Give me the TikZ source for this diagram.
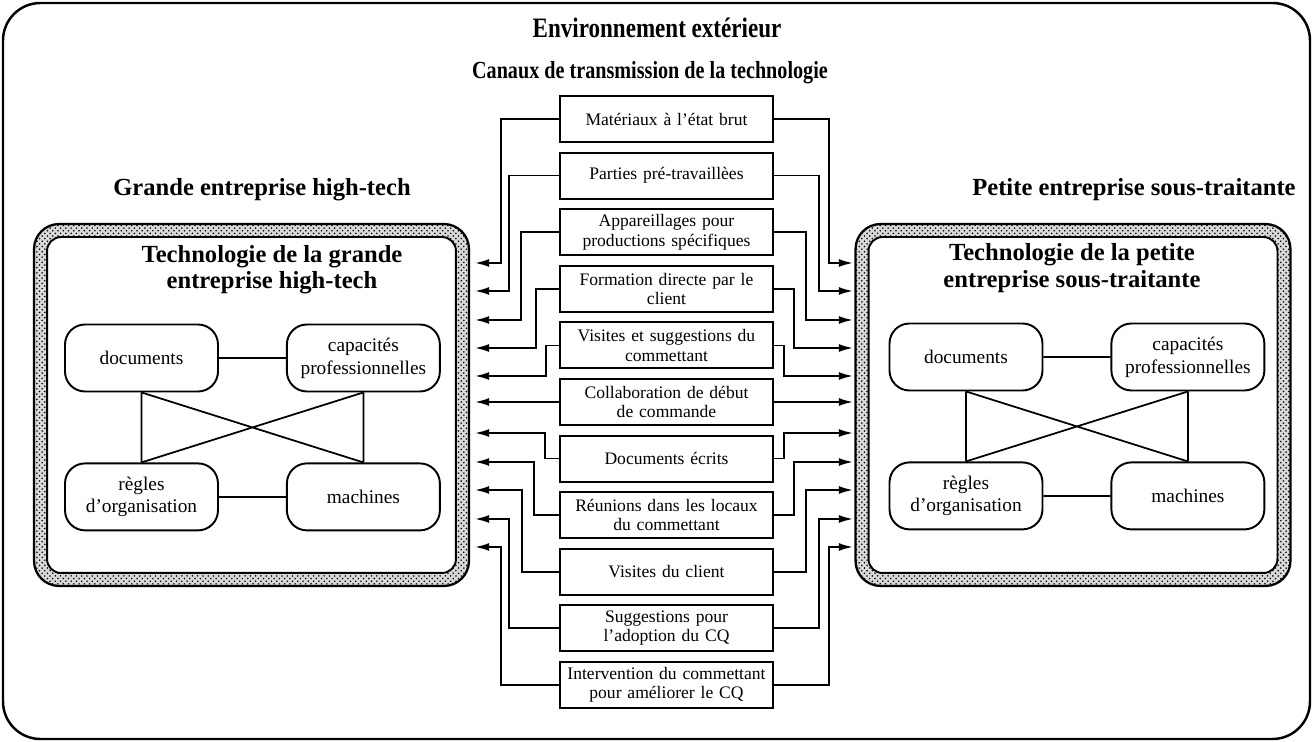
\documentclass[tikz,border=0pt]{standalone}
\usepackage{fontspec}
\setmainfont{Liberation Serif}
\newfontfamily\narrowfont[FakeStretch=0.82]{Liberation Serif}
\usetikzlibrary{positioning, arrows.meta, patterns}
\tikzset{
x=0.02cm, y=-0.02cm, % one unit is one pixel of the scan, y going down
channel/.style={draw, line width=1.2pt, minimum width=4.26cm, minimum height=0.92cm, text width=4.1cm, inner sep=1pt, align=center, font=\fontsize{10}{11}\selectfont}, % boxes of the transmission channels
wire/.style={line width=1pt, -{Latex[length=8pt,width=4.5pt]}}, % connectors from a channel to a firm
firm/.style={draw, line width=1.3pt, rounded corners=0.5cm, minimum width=8.7cm, minimum height=7.24cm, preaction={fill=gray!30}, pattern=crosshatch dots}, % hatched frame of a firm
firminner/.style={draw, line width=1.1pt, fill=white, rounded corners=0.28cm, minimum width=8.18cm, minimum height=6.72cm}, % white inside of the frame
part/.style={draw, line width=1.1pt, rounded corners=0.4cm, minimum width=3.06cm, minimum height=1.34cm, inner sep=1pt, align=center, font=\fontsize{11}{13}\selectfont}, % parts of a technology
heading/.style={align=center, font=\fontsize{14}{15}\selectfont\bfseries}, % titles of the firms
}

\begin{document}
\begin{tikzpicture}
    \useasboundingbox (0,0) rectangle (1313,742);
    \draw[line width=1.4pt, rounded corners=0.75cm] (3,3) rectangle (1310,739);

    \node[font=\narrowfont\fontsize{16}{19}\selectfont\bfseries] (env) at (657,28) {Environnement extérieur};
    \node[font=\narrowfont\fontsize{14}{16}\selectfont\bfseries] (canaux) at (650,73) {Canaux de transmission de la technologie};

    % the two firms
    \node[heading] (grandeT) at (262,190) {Grande entreprise high-tech};
    \node[heading] (petiteT) at (1134,190) {Petite entreprise sous-traitante};
    \node[firm] (grande) at (251.5,405) {};
    \node[firminner] (grandeIn) at (grande) {};
    \node[firm] (petite) at (1073,405) {};
    \node[firminner] (petiteIn) at (petite) {};
    \node[heading] (grandeTech) at (272,270) {Technologie de la grande\\entreprise high-tech};
    \node[heading] (petiteTech) at (1072,268) {Technologie de la petite\\entreprise sous-traitante};

    % technology of the big firm
    \node[part] (docG) at (141.5,358) {documents};
    \node[part, right=1.34cm of docG] (capG) {capacités\\professionnelles};
    \node[part, below=1.4cm of docG] (regG) {règles\\d'organisation};
    \node[part, below=1.4cm of capG] (macG) {machines};

    % technology of the small firm
    \node[part] (docP) at (966,357) {documents};
    \node[part, right=1.34cm of docP] (capP) {capacités\\professionnelles};
    \node[part, below=1.4cm of docP] (regP) {règles\\d'organisation};
    \node[part, below=1.4cm of capP] (macP) {machines};

    \draw[line width=1pt] (docG) -- (capG)  (regG) -- (macG)  (docG) -- (regG)  (capG) -- (macG)
        (docG.south) -- (macG.north)  (capG.south) -- (regG.north);
    \draw[line width=1pt] (docP) -- (capP)  (regP) -- (macP)  (docP) -- (regP)  (capP) -- (macP)
        (docP.south) -- (macP.north)  (capP.south) -- (regP.north);

    % channels of transmission
    \node[channel] (c1) at (666.5,119) {Matériaux à l'état brut};
    \node[channel, below=0.17cm of c1] (c2) {Parties pré-travaillèes};
    \node[channel, below=0.17cm of c2] (c3) {Appareillages pour\\productions spécifiques};
    \node[channel, below=0.17cm of c3] (c4) {Formation directe par le\\client};
    \node[channel, below=0.17cm of c4] (c5) {Visites et suggestions du\\commettant};
    \node[channel, below=0.17cm of c5] (c6) {Collaboration de début\\de commande};
    \node[channel, below=0.17cm of c6] (c7) {Documents écrits};
    \node[channel, below=0.17cm of c7] (c8) {Réunions dans les locaux\\du commettant};
    \node[channel, below=0.17cm of c8] (c9) {Visites du client};
    \node[channel, below=0.17cm of c9] (c10) {Suggestions pour\\l'adoption du CQ};
    \node[channel, below=0.17cm of c10] (c11) {Intervention du commettant\\pour améliorer le CQ};

    % arrow tips on the firms
    \coordinate (L1) at (475,263);
    \coordinate (L2) at (475,291);
    \coordinate (L3) at (475,320);
    \coordinate (L4) at (475,348);
    \coordinate (L5) at (475,376);
    \coordinate (L6) at (475,404);
    \coordinate (L7) at (475,433);
    \coordinate (L8) at (475,462);
    \coordinate (L9) at (475,490);
    \coordinate (L10) at (475,519);
    \coordinate (L11) at (475,547);
    \coordinate (R1) at (853,263);
    \coordinate (R2) at (853,291);
    \coordinate (R3) at (853,320);
    \coordinate (R4) at (853,348);
    \coordinate (R5) at (853,376);
    \coordinate (R6) at (853,404);
    \coordinate (R7) at (853,433);
    \coordinate (R8) at (853,462);
    \coordinate (R9) at (853,490);
    \coordinate (R10) at (853,519);
    \coordinate (R11) at (853,547);

    \draw[wire] (c1.west) -- ++(-58,0) |- (L1);
    \draw[wire] (c2.west) -- ++(-50,0) |- (L2);
    \draw[wire] (c3.west) -- ++(-38,0) |- (L3);
    \draw[wire] (c4.west) -- ++(-23,0) |- (L4);
    \draw[wire] (c5.west) -- ++(-13,0) |- (L5);
    \draw[wire] (c6.west) -- (c6.west -| L6);
    \draw[wire] (c7.west) -- ++(-14,0) |- (L7);
    \draw[wire] (c8.west) -- ++(-25,0) |- (L8);
    \draw[wire] (c9.west) -- ++(-37,0) |- (L9);
    \draw[wire] (c10.west) -- ++(-50,0) |- (L10);
    \draw[wire] (c11.west) -- ++(-58,0) |- (L11);

    \draw[wire] (c1.east) -- ++(55,0) |- (R1);
    \draw[wire] (c2.east) -- ++(45,0) |- (R2);
    \draw[wire] (c3.east) -- ++(32,0) |- (R3);
    \draw[wire] (c4.east) -- ++(20,0) |- (R4);
    \draw[wire] (c5.east) -- ++(10,0) |- (R5);
    \draw[wire] (c6.east) -- (c6.east -| R6);
    \draw[wire] (c7.east) -- ++(10,0) |- (R7);
    \draw[wire] (c8.east) -- ++(20,0) |- (R8);
    \draw[wire] (c9.east) -- ++(32,0) |- (R9);
    \draw[wire] (c10.east) -- ++(45,0) |- (R10);
    \draw[wire] (c11.east) -- ++(55,0) |- (R11);
\end{tikzpicture}
\end{document}
